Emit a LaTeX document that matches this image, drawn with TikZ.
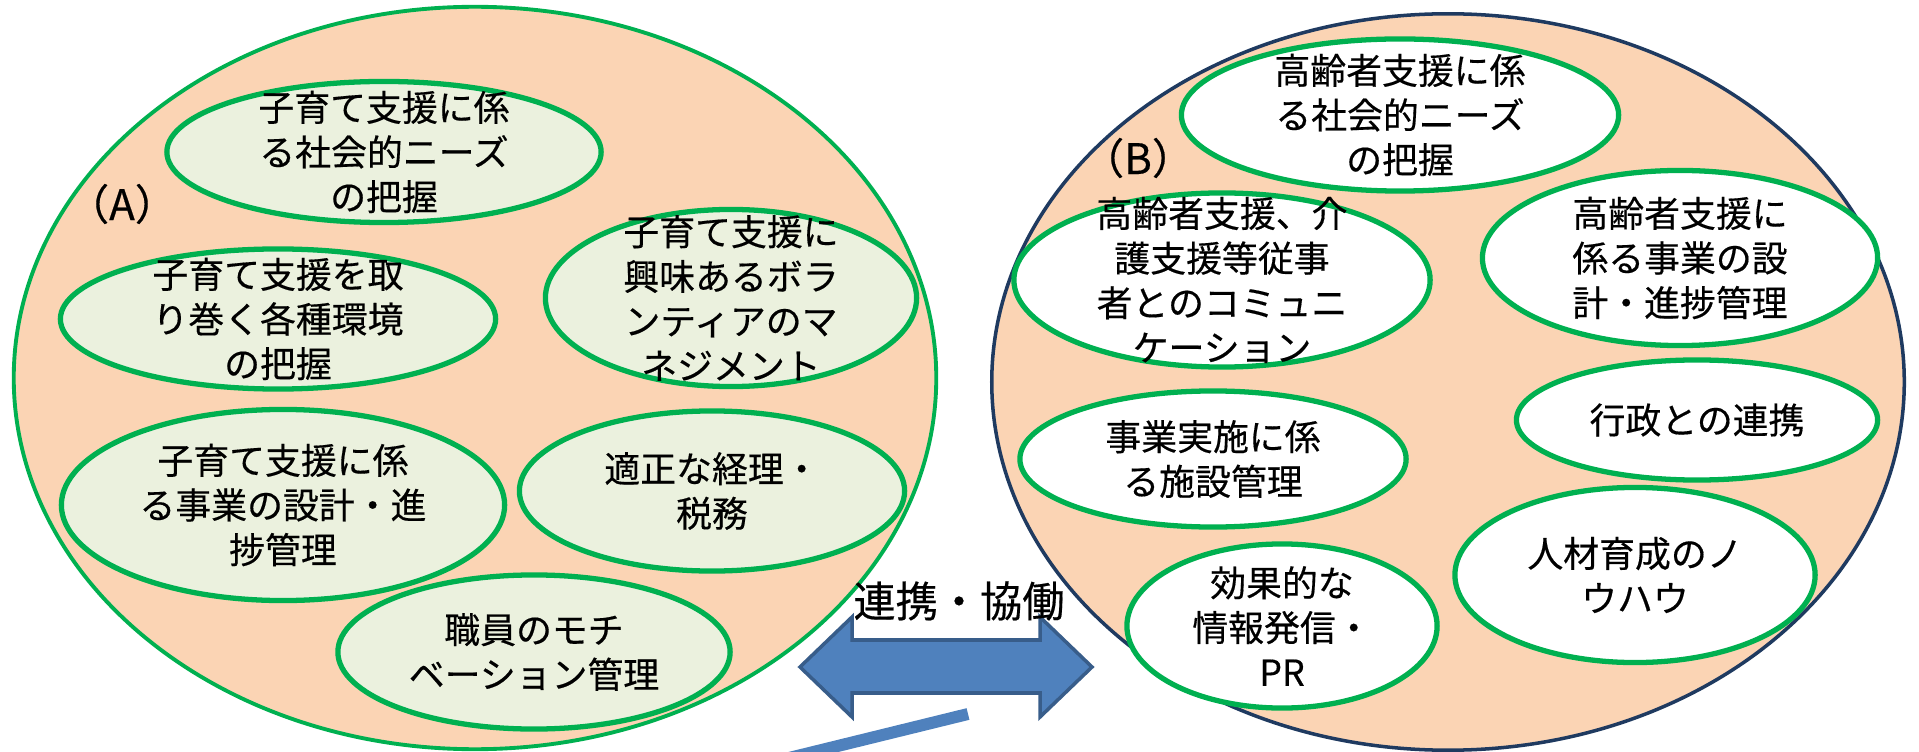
\documentclass[tikz,border=0pt]{standalone}
\usepackage{fontspec}
\setmainfont{Noto Sans CJK JP}[FakeBold=0.4]
\usetikzlibrary{shapes}

\definecolor{peach}{HTML}{FBD4B4}
\definecolor{leaf}{HTML}{EBF1DE}
\definecolor{grnline}{HTML}{00B050}
\definecolor{navyline}{HTML}{1F3A60}
\definecolor{arrowfill}{HTML}{4F81BD}
\definecolor{arrowline}{HTML}{385D8A}

\begin{document}
\begin{tikzpicture}[x=0.01cm, y=-0.01cm,
    bigA/.style={ellipse, draw=grnline, fill=peach, line width=1.1pt, inner sep=0pt},
    bigB/.style={ellipse, draw=navyline, fill=peach, line width=1pt, inner sep=0pt},
    needA/.style={ellipse, draw=grnline, fill=leaf, line width=1.5pt, inner sep=0pt},
    needB/.style={ellipse, draw=grnline, fill=white, line width=1.5pt, inner sep=0pt},
    every label/.style={align=center, inner sep=0pt, font=\fontsize{10.2}{12.7}\selectfont},
    tag/.style={font=\fontsize{12}{14}\selectfont, inner sep=0pt},
    blockarrow/.style={fill=arrowfill, draw=arrowline, line width=1pt, line join=miter}]
        \useasboundingbox (0,0) rectangle (1919,752);

        % Groups
        \node[bigA, minimum width=9.22cm, minimum height=7.42cm] (grpA) at (475,378) {};
        \node[bigB, minimum width=9.12cm, minimum height=7.36cm] (grpB) at (1448,382) {};
        \node[tag] (tagA) at (122,204) {（A）};
        \node[tag] (tagB) at (1138,158) {（B）};

        % (A) needs
        \node[needA, minimum width=4.34cm, minimum height=1.41cm, label={center:子育て支援に係\\る社会的ニーズ\\の把握}] (a1) at (384,152) {};
        \node[needA, minimum width=4.35cm, minimum height=1.40cm, label={center:子育て支援を取\\り巻く各種環境\\の把握}] (a2) at (278,319) {};
        \node[needA, minimum width=3.71cm, minimum height=1.77cm, label={center:子育て支援に\\興味あるボラ\\ンティアのマ\\ネジメント}] (a3) at (731,298) {};
        \node[needA, minimum width=4.43cm, minimum height=1.91cm, label={center:子育て支援に係\\る事業の設計・進\\捗管理}] (a4) at (283,505) {};
        \node[needA, minimum width=3.85cm, minimum height=1.60cm, label={center:適正な経理・\\税務}] (a5) at (712,491) {};
        \node[needA, minimum width=3.92cm, minimum height=1.54cm, label={center:職員のモチ\\ベーション管理}] (a6) at (534,652) {};

        % (B) needs
        \node[needB, minimum width=4.37cm, minimum height=1.52cm, label={center:高齢者支援に係\\る社会的ニーズ\\の把握}] (b1) at (1400,115) {};
        \node[needB, minimum width=4.16cm, minimum height=1.74cm, label={center:高齢者支援、介\\護支援等従事\\者とのコミュニ\\ケーション}] (b2) at (1222,280) {};
        \node[needB, minimum width=3.95cm, minimum height=1.75cm, label={center:高齢者支援に\\係る事業の設\\計・進捗管理}] (b3) at (1680,258) {};
        \node[needB, minimum width=3.61cm, minimum height=1.20cm, label={center:行政との連携}] (b4) at (1697,420) {};
        \node[needB, minimum width=3.86cm, minimum height=1.36cm, label={center:事業実施に係\\る施設管理}] (b5) at (1213,459) {};
        \node[needB, minimum width=3.10cm, minimum height=1.64cm, label={center:効果的な\\情報発信・\\PR}] (b6) at (1282,626) {};
        \node[needB, minimum width=3.60cm, minimum height=1.75cm, label={center:人材育成のノ\\ウハウ}] (b7) at (1635,575) {};

        % Link between the groups
        \coordinate (link) at (946,667);
        \draw[blockarrow, shift={(link)}] (-146,0) -- (-94,-50) -- (-94,-27) -- (94,-27) -- (94,-50)
            -- (146,0) -- (94,50) -- (94,26) -- (-94,26) -- (-94,50) -- cycle;
        \node[font=\fontsize{12}{14}\selectfont, inner sep=0pt] (linklabel) at (959,601) {連携・協働};

        % Stray stroke
        \coordinate (strokeend) at (968,714);
        \coordinate (strokefree) at (740,770);
        \draw[arrowfill, line width=3.4pt] (strokeend) -- (strokefree);
    \end{tikzpicture}
\end{document}
